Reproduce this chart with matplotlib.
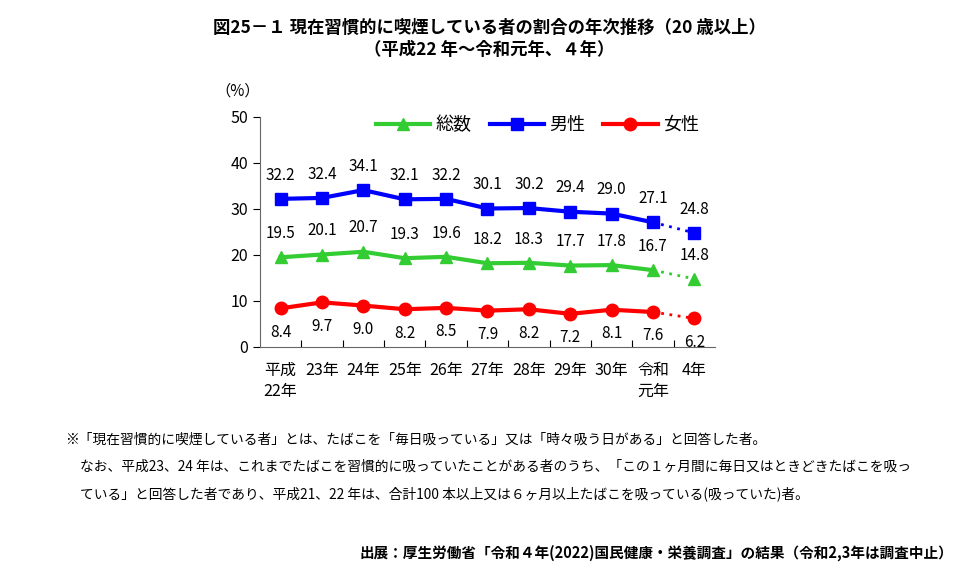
import matplotlib
matplotlib.use("Agg")
import matplotlib.pyplot as plt

plt.rcParams['font.family'] = ['Noto Sans CJK JP', 'DejaVu Sans']

# データ
years = ["平成\n22年", "23年", "24年", "25年", "26年", "27年", "28年", "29年", "30年", "令和\n元年", "4年"]
total = [19.5, 20.1, 20.7, 19.3, 19.6, 18.2, 18.3, 17.7, 17.8, 16.7, 14.8]
male = [32.2, 32.4, 34.1, 32.1, 32.2, 30.1, 30.2, 29.4, 29.0, 27.1, 24.8]
female = [8.4, 9.7, 9.0, 8.2, 8.5, 7.9, 8.2, 7.2, 8.1, 7.6, 6.2]

fig = plt.figure(figsize=(9.6, 5.72), dpi=100)
ax = fig.add_axes([0.2708, 0.3934, 0.474, 0.4021])

x = list(range(len(years)))
series = [
    ("総数", total, "#33cc33", "^", 9, 7),
    ("男性", male, "#0000ff", "s", 8, 7),
    ("女性", female, "#ff0000", "o", 9, 7),
]
for name, vals, col, mk, ms, off in series:
    ax.plot(x[:-1], vals[:-1], color=col, lw=3, marker=mk, ms=ms, label=name)
    ax.plot(x[-2:], vals[-2:], color=col, lw=2, ls=(0, (1, 2)))
    ax.plot(x[-1], vals[-1], color=col, marker=mk, ms=ms, ls="none")

for i in x:
    ax.annotate(f"{male[i]:.1f}", (i, male[i]), xytext=(0, 11), textcoords="offset points",
                ha="center", va="bottom", fontsize=11)
    ax.annotate(f"{total[i]:.1f}", (i, total[i]), xytext=(0, 11), textcoords="offset points",
                ha="center", va="bottom", fontsize=11)
    ax.annotate(f"{female[i]:.1f}", (i, female[i]), xytext=(0, -11), textcoords="offset points",
                ha="center", va="top", fontsize=11)

ax.set_xlim(-0.5, len(years) - 0.5)
ax.set_ylim(0, 50)
ax.set_yticks(range(0, 51, 10))
ax.set_xticks([i + 0.5 for i in x[:-1]])
ax.set_xticklabels([])
ax.set_xticks(x, minor=True)
ax.set_xticklabels(years, minor=True, fontsize=11.5, linespacing=1.25, va="top")
ax.tick_params(axis="x", which="minor", length=0, pad=11)
ax.tick_params(axis="x", which="major", length=5, direction="in")
ax.tick_params(axis="y", length=5, direction="out", labelsize=11.5)
for s in ["top", "right"]:
    ax.spines[s].set_visible(False)
ax.spines["left"].set_color("#666666")
ax.spines["bottom"].set_color("#666666")

fig.text(0.248, 0.84, "（%）", fontsize=11, ha="center", va="center")

leg = ax.legend(loc="upper center", bbox_to_anchor=(0.61, 1.075), ncol=3, frameon=False,
                fontsize=13, handlelength=3.0, columnspacing=1.0, handletextpad=0.3)

fig.text(0.51, 0.952, "図25－１ 現在習慣的に喫煙している者の割合の年次推移（20 歳以上）",
         ha="center", va="center", fontsize=12.5, fontweight="bold")
fig.text(0.51, 0.913, "（平成22 年～令和元年、４年）",
         ha="center", va="center", fontsize=12.5, fontweight="bold")

notes = [
    (0.068, 0.231, "※「現在習慣的に喫煙している者」とは、たばこを「毎日吸っている」又は「時々吸う日がある」と回答した者。"),
    (0.083, 0.184, "なお、平成23、24 年は、これまでたばこを習慣的に吸っていたことがある者のうち、「この１ヶ月間に毎日又はときどきたばこを吸っ"),
    (0.083, 0.137, "ている」と回答した者であり、平成21、22 年は、合計100 本以上又は６ヶ月以上たばこを吸っている(吸っていた)者。"),
]
for nx, ny, t in notes:
    fig.text(nx, ny, t, ha="left", va="center", fontsize=9.9)

fig.text(0.993, 0.033, "出展：厚生労働省「令和４年(2022)国民健康・栄養調査」の結果（令和2,3年は調査中止）",
         ha="right", va="center", fontsize=10.5, fontweight="bold")

fig.savefig("out.png", dpi=100)
